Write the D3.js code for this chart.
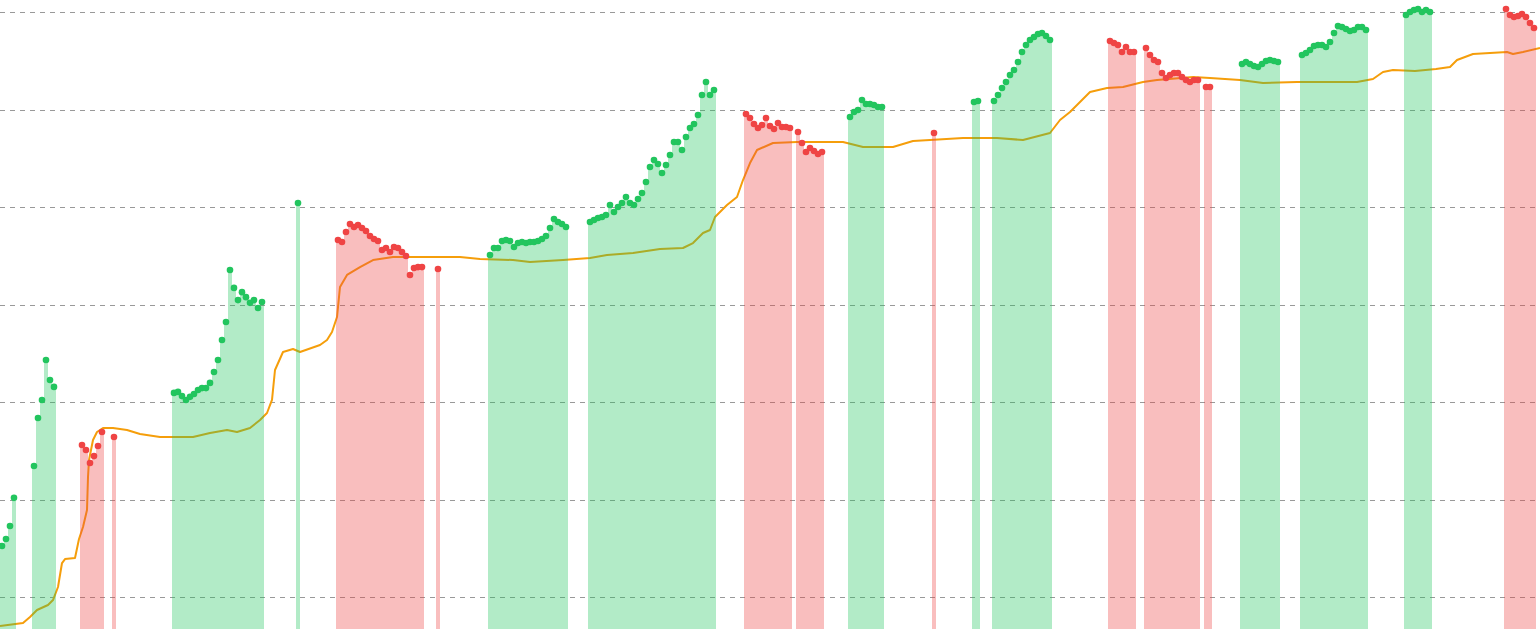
<!DOCTYPE html>
<html><head><meta charset="utf-8">
<script src="https://cdn.jsdelivr.net/npm/d3@7"></script>
<style>html,body{margin:0;padding:0;background:#fff;overflow:hidden}</style>
</head><body><svg id="chart" width="1540" height="629"></svg>
<script>
// Horizontal reference levels (log scale)
const gridValues = [0.1, 1, 10, 100, 1000, 10000, 100000];

// Price runs: first sample index of each run, market phase and sampled prices
const runStart = [0, 8, 20, 28, 43, 74, 84, 109, 122, 147, 186, 199, 212, 233, 243, 248, 277, 286, 301, 310, 325, 351, 376];
const runPhase = ['up','up','down','down','up','up','down','down','up','up','down','down','up','down','up','up','down','down','down','up','up','up','down'];
const runValues = [
  [0.334, 0.394, 0.535, 1.04],
  [2.21, 6.86, 10.5, 27.0, 16.8, 14.3],
  [3.62, 3.22, 2.37, 2.79, 3.54, 4.93],
  [4.38],
  [12.4, 12.7, 11.5, 10.5, 11.3, 12.1, 13.3, 13.9, 13.9, 15.7, 20.3, 27.0, 43.3, 66.2, 226, 148, 111, 134, 119, 104, 111, 92, 106],
  [1100],
  [459, 438, 554, 669, 624, 654, 609, 567, 504, 470, 448, 362, 380, 346, 389, 380, 346, 314, 201, 237, 242, 242],
  [231],
  [322, 380, 380, 448, 459, 448, 389, 427, 438, 427, 438, 438, 448, 470, 504, 609, 753, 702, 669, 624],
  [702, 736, 771, 790, 828, 1048, 889, 1000, 1100, 1267, 1100, 1048, 1208, 1392, 1805, 2572, 3034, 2761, 2233, 2696, 3414, 4642, 4642, 3842, 5223, 6460, 7100, 8784, 14080, 19140, 14080, 15850],
  [8990, 8180, 7100, 6460, 6935, 8180, 6770, 6310, 7270, 6615, 6615, 6460],
  [5875, 4533, 3665, 4028, 3753, 3497, 3665],
  [8378, 9428, 9883, 12515, 11390, 11390, 11120, 10610, 10610],
  [5741],
  [11940, 12230],
  [12230, 14080, 16620, 19140, 22590, 25420, 30710, 38880, 45860, 51620, 55410, 59480, 60890, 56720, 51620],
  [50420, 48110, 45860, 38880, 43750, 38880, 38880],
  [42740, 36220, 32190, 30710, 23670, 21040, 22590, 23670, 23670, 21540, 20080, 19140, 20080, 20080],
  [17010, 17010],
  [29290, 30710, 29290, 27940, 27280, 29290, 31440, 32190, 31440, 30710],
  [36220, 37980, 40760, 44800, 45860, 45860, 43750, 49250, 60890, 71840, 70170, 66930, 63850, 65360, 70170, 70170, 65360],
  [93150, 100000, 104800, 107300, 100000, 104800, 100000],
  [107300, 93150, 88850, 91000, 95390, 88850, 77140, 68530]
];

// Long-term moving average: sample index and value
const maIndex = [-0.5, 5.25, 7, 8.75, 11.5, 12.75, 14, 15, 15.75, 18.25, 19.25, 20.25, 21.25, 21.5, 21.75, 22.75, 23.75, 25.25, 27.75, 31.25, 34.5, 39.5, 47.75, 52, 56.25, 58.75, 62, 64.5, 66.25, 67.5, 68.25, 70.25, 72.75, 74.5, 79.5, 81.25, 82.5, 83.75, 84.5, 86.25, 89.5, 92.75, 97.75, 114.5, 119.5, 127.75, 132, 140.25, 147, 151.25, 157.75, 164.5, 170.25, 172.75, 175.25, 177, 178.25, 181.25, 183.75, 185.25, 187, 188.75, 192.75, 198.75, 210.25, 215.25, 222.75, 227.75, 232, 240.25, 248.75, 255.25, 262, 264.5, 267, 272, 276.25, 280.25, 285.25, 288.75, 297.75, 302, 309.5, 315.25, 323.75, 338.75, 342.75, 345.25, 347.75, 353.25, 358.5, 362, 363.75, 367.75, 376.25, 377.75, 380.25, 384.5];
const maValue = [0.0504, 0.0541, 0.0624, 0.0736, 0.0828, 0.0931, 0.1267, 0.2232, 0.2453, 0.2512, 0.3935, 0.5224, 0.7806, 1.701, 2.542, 4.077, 4.924, 5.412, 5.412, 5.163, 4.697, 4.375, 4.375, 4.809, 5.163, 4.924, 5.412, 6.537, 7.714, 10.5, 21.29, 32.57, 34.96, 32.57, 38.42, 43.3, 52.23, 74.42, 151.2, 201, 242, 286, 307, 307, 293, 286, 273, 286, 300, 322, 337, 371, 380, 427, 541, 581, 790, 1048, 1267, 1892, 2827, 3842, 4533, 4642, 4642, 4125, 4125, 4752, 4866, 5104, 5104, 4866, 5741, 7806, 9428, 15120, 16620, 17010, 19140, 20080, 21540, 21040, 20080, 18700, 19140, 19140, 20550, 24240, 25420, 24820, 26030, 27280, 32190, 37090, 38880, 37090, 38880, 42740];

const W = 1540, H = 629;
const colors = { up: '#22c55e', down: '#ef4444' };

const svg = d3.select('#chart');
const x = d3.scaleLinear().domain([0, 384]).range([2, 1538]);
const y = d3.scaleLog().domain([0.047, 132800]).range([H, 0]);
const step = x(1) - x(0);

const points = [];
runValues.forEach((vals, r) => vals.forEach((v, k) => points.push({ i: runStart[r] + k, v, phase: runPhase[r] })));

// gridlines
svg.append('g').selectAll('line').data(gridValues).join('line')
  .attr('x1', 0).attr('x2', W)
  .attr('y1', d => Math.round(y(d)) + 0.5).attr('y2', d => Math.round(y(d)) + 0.5)
  .attr('stroke', '#999').attr('stroke-width', 1).attr('stroke-dasharray', '5,5');

// moving average line
const ma = maIndex.map((t, k) => ({ t, v: maValue[k] }));
svg.append('path').datum(ma)
  .attr('d', d3.line().x(d => x(d.t)).y(d => y(d.v)))
  .attr('fill', 'none').attr('stroke', '#f59e0b').attr('stroke-width', 2).attr('stroke-linejoin', 'round');

// fills
svg.append('g').selectAll('rect').data(points).join('rect')
  .attr('x', d => x(d.i) - step / 2).attr('width', step)
  .attr('y', d => y(d.v)).attr('height', d => H - y(d.v))
  .attr('fill', d => colors[d.phase]).attr('fill-opacity', 0.35)
  .attr('shape-rendering', 'crispEdges');

// dots
svg.append('g').selectAll('circle').data(points).join('circle')
  .attr('cx', d => x(d.i)).attr('cy', d => y(d.v)).attr('r', 3.3)
  .attr('fill', d => colors[d.phase]);
</script>
</body></html>
